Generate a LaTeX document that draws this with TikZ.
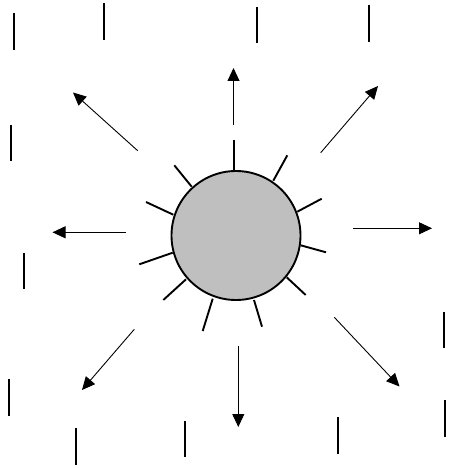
\documentclass[tikz,border=0pt]{standalone}
\usetikzlibrary{arrows.meta}
\begin{document}
\begin{tikzpicture}[x=1pt,y=-1pt,
  ray/.style={line width=0.9pt,-{Triangle[length=13pt,width=12pt]}},
  spike/.style={line width=1.9pt},
  bar/.style={line width=1.9pt},
  sphere/.style={circle,draw,line width=1.9pt,fill=black!25,minimum size=129pt,inner sep=0pt}]
\useasboundingbox (0,0) rectangle (451,468);

% central sphere
\node[sphere] (core) at (236,235.5) {};

% short spikes on the surface
\draw[spike] (234.3,140) -- (234.3,169.5);
\draw[spike] (287.3,155.3) -- (273.3,180.7);
\draw[spike] (321.7,198.7) -- (297.3,211.7);
\draw[spike] (326,252.3) -- (300.7,245.3);
\draw[spike] (305.7,295) -- (286.7,277.3);
\draw[spike] (262,326.7) -- (254,300);
\draw[spike] (202.7,331) -- (212.7,298.7);
\draw[spike] (163.3,300) -- (186,279.3);
\draw[spike] (139.3,264.3) -- (172.7,252.7);
\draw[spike] (146,202) -- (173.3,214.7);
\draw[spike] (174.3,165.3) -- (191.7,186.7);

% outward rays
\coordinate (nT) at (233.5,125);   \coordinate (nH) at (233.5,68);
\coordinate (neT) at (320.7,152.7); \coordinate (neH) at (378,86);
\coordinate (eT) at (353.3,228.3); \coordinate (eH) at (432,228.3);
\coordinate (seT) at (334.3,317.3); \coordinate (seH) at (399.5,386.5);
\coordinate (sT) at (238.3,346);   \coordinate (sH) at (238.3,427);
\coordinate (swT) at (134.3,329.3); \coordinate (swH) at (82,390);
\coordinate (wT) at (126,232.3);   \coordinate (wH) at (52.5,232.3);
\coordinate (nwT) at (137.7,150.7); \coordinate (nwH) at (73,92.5);
\foreach \d in {n,ne,e,se,s,sw,w,nw}
  \draw[ray] (\d T) -- (\d H);

% scattered vertical marks
\draw[line width=2.6pt] (14,13.3) -- (14,50);
\foreach \x/\a/\b in {103.7/3.3/40, 256.7/7.3/43.3, 369.3/4.7/41.7,
    10.7/125/161, 24/253.3/289.3, 444.3/312/348.3, 9.3/379.3/416,
    75.7/428.3/465, 184.7/421/457.3, 337.7/417.3/454, 445.3/400/436.7}
  \draw[bar] (\x,\a) -- (\x,\b);
\end{tikzpicture}
\end{document}
